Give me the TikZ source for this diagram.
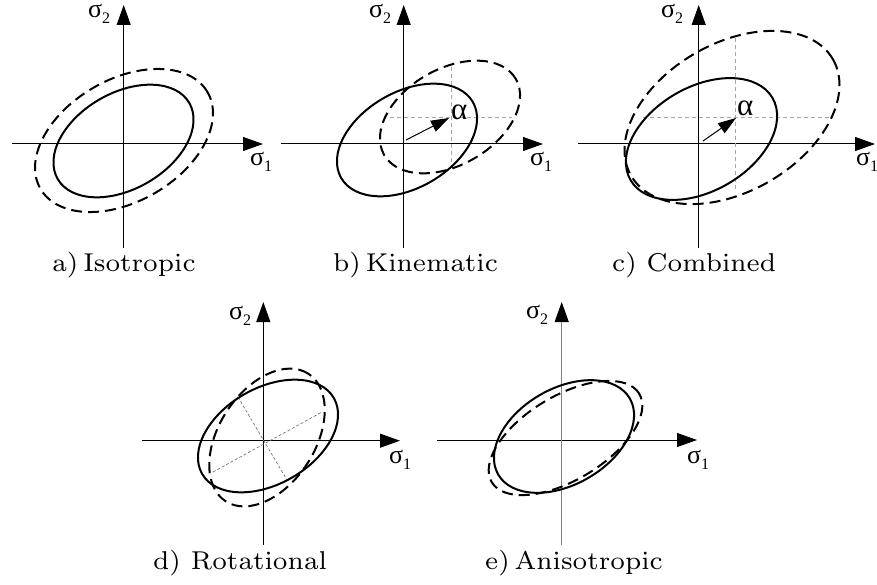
\documentclass[tikz,border=0pt]{standalone}
\usepackage{fontspec}
\newfontfamily\gk{Liberation Serif}
\usetikzlibrary{arrows.meta}
\font\labfont=cmr7 at 25.8pt
\newcommand\sigl[1]{{\gk\fontsize{26}{28}\selectfont σ\raisebox{-6pt}{\fontsize{16}{18}\selectfont #1}}}
\newcommand\alp{{\gk\fontsize{31}{32}\selectfont α}}
\tikzset{
 axis/.style={line width=1pt, -{Triangle[length=20pt,width=14pt]}},
 grayaxis/.style={line width=1pt, black!50, -{Triangle[length=20pt,width=14pt,color=black]}},
 yield/.style={line width=2pt},
 yielddash/.style={line width=2pt, dash pattern=on 11pt off 6pt},
 guide/.style={line width=0.8pt, black!35, dash pattern=on 4pt off 3pt},
 thinguide/.style={line width=0.6pt, black!60, dash pattern=on 3pt off 2pt},
 alpharrow/.style={line width=1pt, -{Triangle[length=18pt,width=12pt]}},
 lab/.style={inner sep=0pt, anchor=base west, font=\labfont},
 sl/.style={inner sep=0pt, anchor=base west},
}
\begin{document}
\begin{tikzpicture}[x=1pt,y=1pt]
\useasboundingbox (0,0) rectangle (877,-585);
% ---------- a) Isotropic
\coordinate (aL) at (12,-144); \coordinate (aR) at (263,-144);
\coordinate (aB) at (123.7,-248); \coordinate (aT) at (123.7,-5);
\draw[axis] (aL) -- (aR);
\draw[axis] (aB) -- (aT);
\draw[yield, rotate around={30:(123.5,-141)}] (123.5,-141) ellipse [x radius=76pt, y radius=48pt];
\draw[yielddash, rotate around={30:(124,-140.5)}] (124,-140.5) ellipse [x radius=96.5pt, y radius=61pt];
\node[sl] (a2) at (88,-18) {\sigl{2}};
\node[sl] (a1) at (250,-166) {\sigl{1}};
\node[lab] (la) at (52,-271) {a)\,Isotropic};
% ---------- b) Kinematic
\coordinate (bL) at (281,-144); \coordinate (bR) at (543,-144);
\coordinate (bB) at (403.7,-248); \coordinate (bT) at (403.7,-5);
\draw[axis] (bL) -- (bR);
\draw[axis] (bB) -- (bT);
\coordinate (bgT) at (451,-67); \coordinate (bgB) at (451,-167);
\coordinate (bgL) at (390,-117); \coordinate (bgR) at (512,-117);
\draw[guide] (bgT) -- (bgB);
\draw[guide] (bgL) -- (bgR);
\draw[yield, rotate around={30:(407,-140)}] (407,-140) ellipse [x radius=76pt, y radius=48pt];
\draw[yielddash, rotate around={30:(450,-117)}] (450,-117) ellipse [x radius=76pt, y radius=48pt];
\coordinate (bA0) at (406,-140); \coordinate (bA1) at (449,-118);
\draw[alpharrow] (bA0) -- (bA1);
\node[sl] (balpha) at (451,-120) {\alp};
\node[sl] (b2) at (369,-18) {\sigl{2}};
\node[sl] (b1) at (530,-166) {\sigl{1}};
\node[lab] (lb) at (333,-271) {b)\,Kinematic};
% ---------- c) Combined
\coordinate (cL) at (578,-144); \coordinate (cR) at (875,-144);
\coordinate (cB) at (698.7,-248); \coordinate (cT) at (698.7,-5);
\draw[axis] (cL) -- (cR);
\draw[axis] (cB) -- (cT);
\coordinate (cgT) at (735.7,-38); \coordinate (cgB) at (735.7,-192);
\coordinate (cgL) at (643,-117); \coordinate (cgR) at (833,-117);
\draw[guide] (cgT) -- (cgB);
\draw[guide] (cgL) -- (cgR);
\draw[yield, rotate around={30:(701.5,-139)}] (701.5,-139) ellipse [x radius=82pt, y radius=52pt];
\draw[yielddash, rotate around={30:(732,-117.5)}] (732,-117.5) ellipse [x radius=116.5pt, y radius=74pt];
\coordinate (cA0) at (703,-141); \coordinate (cA1) at (736,-118);
\draw[alpharrow] (cA0) -- (cA1);
\node[sl] (calpha) at (737,-116) {\alp};
\node[sl] (c2) at (661,-18) {\sigl{2}};
\node[sl] (c1) at (856,-166) {\sigl{1}};
\node[lab] (lc) at (612,-271) {c) Combined};
% ---------- d) Rotational
\coordinate (dL) at (142,-440.7); \coordinate (dR) at (400,-440.7);
\coordinate (dB) at (263.3,-545); \coordinate (dT) at (263.3,-302);
\draw[axis] (dL) -- (dR);
\draw[axis] (dB) -- (dT);
\coordinate (dg1) at (213,-472); \coordinate (dg2) at (322,-412);
\coordinate (dg3) at (238,-397); \coordinate (dg4) at (287,-480);
\draw[thinguide] (dg1) -- (dg2);
\draw[thinguide] (dg3) -- (dg4);
\draw[yield, rotate around={30:(268,-436)}] (268,-436) ellipse [x radius=76pt, y radius=48pt];
\draw[yielddash, rotate around={57:(267,-437.5)}] (267,-437.5) ellipse [x radius=76pt, y radius=48pt];
\node[sl] (d2) at (229,-319) {\sigl{2}};
\node[sl] (d1) at (389,-463) {\sigl{1}};
\node[lab] (ld) at (153,-569) {d) Rotational};
% ---------- e) Anisotropic
\coordinate (eL) at (437,-440); \coordinate (eR) at (697,-440);
\coordinate (eB) at (561.7,-545); \coordinate (eT) at (561.7,-302);
\draw[axis] (eL) -- (eR);
\draw[grayaxis] (eB) -- (eT);
\draw[yield, rotate around={30:(564,-436.5)}] (564,-436.5) ellipse [x radius=76pt, y radius=48pt];
\draw[yielddash, rotate around={31:(565.5,-438)}] (565.5,-438) ellipse [x radius=86pt, y radius=42pt];
\node[sl] (e2) at (526,-318) {\sigl{2}};
\node[sl] (e1) at (687,-463) {\sigl{1}};
\node[lab] (le) at (485,-569) {e)\,Anisotropic};
\end{tikzpicture}
\end{document}
